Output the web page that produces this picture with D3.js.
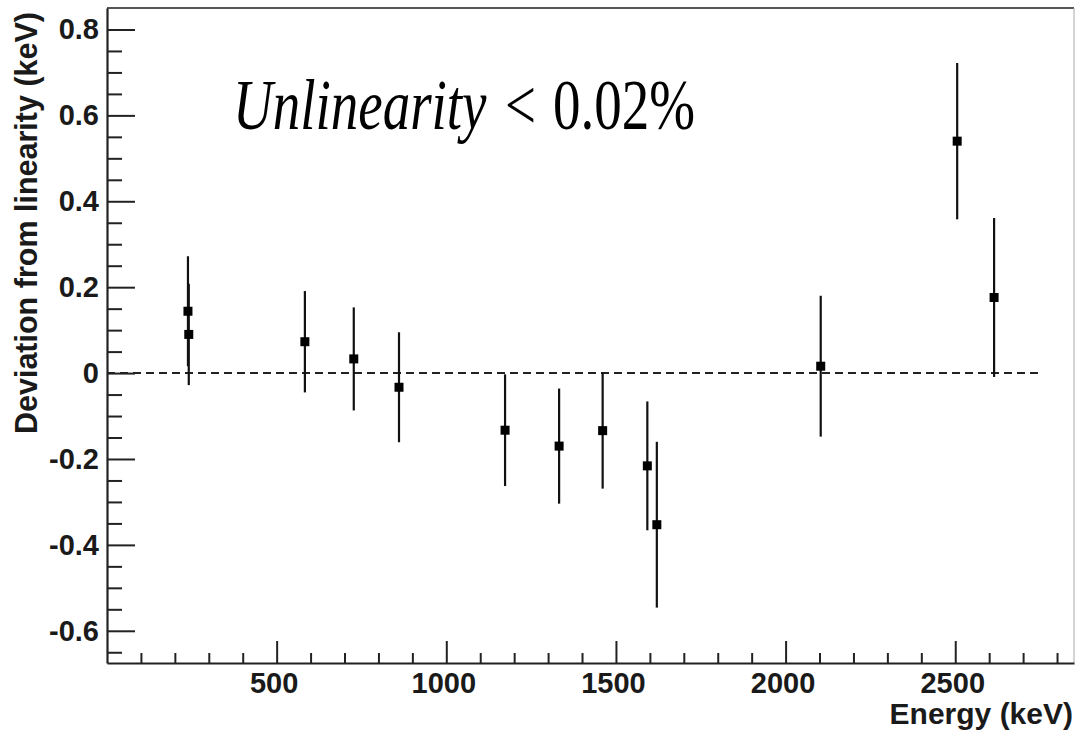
<!DOCTYPE html>
<html>
<head>
<meta charset="utf-8">
<script src="https://cdn.jsdelivr.net/npm/d3@7"></script>
<style>
  html, body { margin: 0; padding: 0; background: #fff; }
  svg { display: block; }
</style>
</head>
<body>
<svg id="chart" width="1075" height="731"></svg>
<script>
// ---- data ----
const energies   = [238.6, 241.0, 583.2, 727.3, 860.6, 1173.2, 1332.5, 1460.8, 1592.5, 1620.5, 2103.5, 2505.7, 2614.5];
const deviations = [0.144, 0.090, 0.073, 0.033, -0.033, -0.133, -0.170, -0.134, -0.216, -0.353, 0.016, 0.540, 0.176];
const errors     = [0.128, 0.118, 0.118, 0.120, 0.128, 0.130, 0.134, 0.135, 0.150, 0.193, 0.164, 0.182, 0.185];
const xMajorTicks = [500, 1000, 1500, 2000, 2500];
const yMajorTicks = [-0.6, -0.4, -0.2, 0, 0.2, 0.4, 0.6, 0.8];
const yTickLabels = ["-0.6", "-0.4", "-0.2", "0", "0.2", "0.4", "0.6", "0.8"];
const xTitle = "Energy (keV)";
const yTitle = "Deviation from linearity (keV)";
const zeroLineRange = [0, 2750];

// ---- layout ----
const svg = d3.select("#chart");
const L = 107, R = 1074, T = 8, B = 663;
const x = d3.scaleLinear().domain([0, 2850]).range([L, R]);
const y = d3.scaleLinear().domain([-0.675, 0.85]).range([B, T]);

const axisFont = "'Liberation Sans', Arial, sans-serif";

// frame top / right
svg.append("line").attr("x1", L).attr("x2", R).attr("y1", T).attr("y2", T)
  .attr("stroke", "#555").attr("stroke-width", 2);
svg.append("line").attr("x1", R).attr("x2", R).attr("y1", T).attr("y2", B)
  .attr("stroke", "#aaa").attr("stroke-width", 1);

// zero dashed line
svg.append("line")
  .attr("x1", x(zeroLineRange[0])).attr("x2", x(zeroLineRange[1]))
  .attr("y1", y(0)).attr("y2", y(0))
  .attr("stroke", "#222").attr("stroke-width", 2)
  .attr("stroke-dasharray", "8,5");

function styleLabels(sel) {
  sel.style("font-family", axisFont).style("font-weight", "bold")
     .style("font-size", "29px").attr("fill", "#1a1a1a");
}

// x axis
const xMinor = d3.range(100, 2850, 100).filter(v => v % 500 !== 0);
const xAxisMajor = d3.axisBottom(x).tickValues(xMajorTicks).tickSizeInner(-22).tickSizeOuter(0).tickPadding(9).tickFormat(d3.format("d"));
const gx = svg.append("g").attr("transform", `translate(0,${B})`).call(xAxisMajor);
gx.select(".domain").attr("stroke", "#222").attr("stroke-width", 2.2);
gx.selectAll(".tick line").attr("stroke", "#222").attr("stroke-width", 2);
styleLabels(gx.selectAll(".tick text").attr("dx", "-3"));
const xAxisMinor = d3.axisBottom(x).tickValues(xMinor).tickSizeInner(-10).tickSizeOuter(0).tickFormat("");
const gxm = svg.append("g").attr("transform", `translate(0,${B})`).call(xAxisMinor);
gxm.select(".domain").remove();
gxm.selectAll(".tick line").attr("stroke", "#222").attr("stroke-width", 2);

// y axis
const yMinor = d3.range(-0.65, 0.81, 0.05).map(v => Math.round(v * 100) / 100)
  .filter(v => !yMajorTicks.some(m => Math.abs(m - v) < 1e-6));
const yAxisMajor = d3.axisLeft(y).tickValues(yMajorTicks).tickSizeInner(-28).tickSizeOuter(0).tickPadding(8)
  .tickFormat((d, i) => yTickLabels[i]);
const gy = svg.append("g").attr("transform", `translate(${L},0)`).call(yAxisMajor);
gy.select(".domain").attr("stroke", "#222").attr("stroke-width", 2.2);
gy.selectAll(".tick line").attr("stroke", "#222").attr("stroke-width", 2);
styleLabels(gy.selectAll(".tick text"));
const yAxisMinor = d3.axisLeft(y).tickValues(yMinor).tickSizeInner(-15).tickSizeOuter(0).tickFormat("");
const gym = svg.append("g").attr("transform", `translate(${L},0)`).call(yAxisMinor);
gym.select(".domain").remove();
gym.selectAll(".tick line").attr("stroke", "#222").attr("stroke-width", 2);

// axis titles
svg.append("text").attr("x", 1073).attr("y", 724).attr("text-anchor", "end")
  .style("font-family", axisFont).style("font-weight", "bold").style("font-size", "30px")
  .attr("fill", "#1a1a1a").text(xTitle);
svg.append("text").attr("transform", "translate(37,12) rotate(-90)").attr("text-anchor", "end")
  .style("font-family", axisFont).style("font-weight", "bold").style("font-size", "30.5px")
  .attr("fill", "#1a1a1a").text(yTitle);

// data
const pts = energies.map((e, i) => ({ e, d: deviations[i], s: errors[i] }));
svg.append("g").selectAll("line").data(pts).join("line")
  .attr("x1", p => x(p.e)).attr("x2", p => x(p.e))
  .attr("y1", p => y(p.d + p.s)).attr("y2", p => y(p.d - p.s))
  .attr("stroke", "#111").attr("stroke-width", 2.2);
svg.append("g").selectAll("rect").data(pts).join("rect")
  .attr("x", p => x(p.e) - 4.5).attr("y", p => y(p.d) - 4.5)
  .attr("width", 9).attr("height", 9).attr("fill", "#000");

// annotation
const ann = svg.append("text")
  .style("font-family", "'Liberation Serif', 'Times New Roman', serif")
  .style("font-size", "55px").attr("fill", "#000")
  .attr("transform", "translate(0,129) scale(1,1.3)");
ann.append("tspan").attr("x", 233).attr("y", 0).style("font-style", "italic").text("Unlinearity");
ann.append("tspan").attr("x", 505).attr("y", 0).text("<");
ann.append("tspan").attr("x", 553).attr("y", 0).text("0.02%");
</script>
</body>
</html>
